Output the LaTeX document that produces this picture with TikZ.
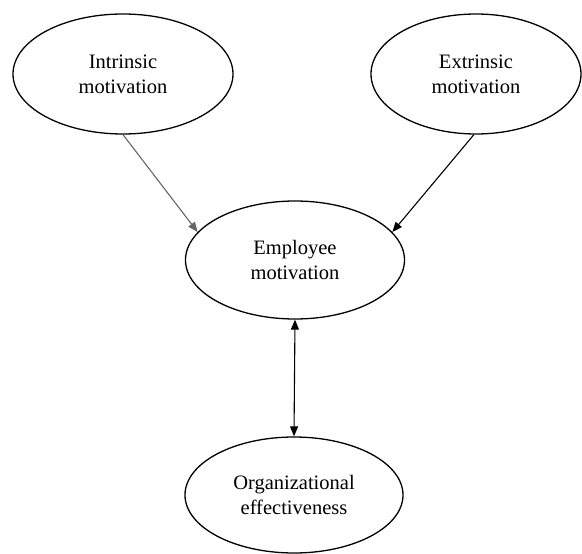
\documentclass[tikz,border=0pt]{standalone}
\usepackage{fontspec}
\setmainfont{Liberation Serif}
\usetikzlibrary{shapes.geometric,arrows.meta}
\begin{document}
\begin{tikzpicture}[x=1pt,y=1pt,
  oval/.style={draw=black,line width=1.3pt,ellipse,inner sep=0pt,align=center,
    font=\fontsize{20.5}{25}\selectfont},
  tip/.style={-{Triangle[length=10pt,width=8pt]}},
  conn/.style={line width=1.1pt,black}]
\useasboundingbox (0,0) rectangle (582,-554);
\node[oval,minimum width=220pt,minimum height=120pt] (intr) at (123,-74) {Intrinsic\\motivation};
\node[oval,minimum width=210pt,minimum height=120pt] (extr) at (476,-74) {Extrinsic\\motivation};
\node[oval,minimum width=219pt,minimum height=118pt] (emp) at (295,-260) {Employee\\motivation};
\node[oval,minimum width=218pt,minimum height=116pt] (org) at (294,-495) {Organizational\\effectiveness};
\draw[conn,tip,draw=black!60] (intr.south) -- (emp.164);
\draw[conn,tip] (extr.-92) -- (emp.16);
\draw[conn,{Triangle[length=10pt,width=8pt]}-{Triangle[length=10pt,width=8pt]}] (emp.south) -- (org.north);
\end{tikzpicture}
\end{document}
